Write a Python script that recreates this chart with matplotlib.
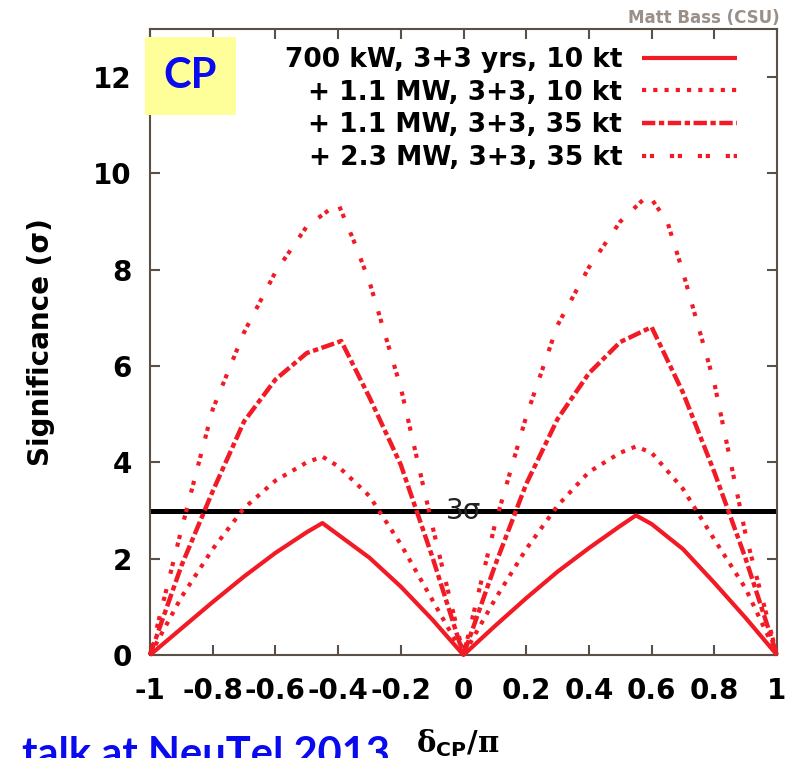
import matplotlib
matplotlib.use("Agg")
import matplotlib.pyplot as plt
from matplotlib.patches import Rectangle

plt.rcParams["font.family"] = ["DejaVu Sans"]
plt.rcParams["font.weight"] = "bold"
plt.rcParams["mathtext.fontset"] = "custom"
plt.rcParams["mathtext.rm"] = "DejaVu Serif"
plt.rcParams["mathtext.it"] = "DejaVu Serif"
plt.rcParams["mathtext.sf"] = "DejaVu Sans:bold"

RED = "#f21b25"
AXIS_GREY = "#5a5046"
BLUE = "#0a0af0"

# CP-violation sensitivity vs delta_CP / pi
x_700kw = [-1, -0.9, -0.8, -0.7, -0.6, -0.5, -0.45, -0.4, -0.3, -0.2, -0.1, 0,
           0.1, 0.2, 0.3, 0.4, 0.5, 0.55, 0.6, 0.7, 0.8, 0.9, 1]
sig_700kw = [0, 0.55, 1.1, 1.63, 2.12, 2.55, 2.74, 2.5, 2.02, 1.42, 0.74, 0,
             0.6, 1.18, 1.73, 2.22, 2.68, 2.9, 2.72, 2.2, 1.5, 0.77, 0]

x_11mw_10kt = [-1, -0.9, -0.8, -0.7, -0.6, -0.5, -0.45, -0.4, -0.3, -0.2, -0.1, 0,
               0.1, 0.2, 0.3, 0.4, 0.5, 0.55, 0.6, 0.7, 0.8, 0.9, 1]
sig_11mw_10kt = [0, 1.2, 2.2, 3.05, 3.62, 4.0, 4.12, 3.92, 3.3, 2.3, 1.15, 0,
                 1.15, 2.2, 3.1, 3.8, 4.2, 4.33, 4.2, 3.45, 2.4, 1.38, 0]

x_11mw_35kt = [-1, -0.9, -0.8, -0.7, -0.6, -0.5, -0.39, -0.3, -0.2, -0.1, 0,
               0.1, 0.2, 0.3, 0.4, 0.5, 0.6, 0.7, 0.8, 0.9, 1]
sig_11mw_35kt = [0, 1.85, 3.4, 4.85, 5.72, 6.27, 6.52, 5.35, 3.95, 2.05, 0,
                 1.85, 3.55, 4.9, 5.85, 6.5, 6.81, 5.45, 3.8, 2.0, 0]

x_23mw_35kt = [-1, -0.9, -0.8, -0.7, -0.6, -0.5, -0.4, -0.35, -0.3, -0.2, -0.1, 0,
               0.1, 0.2, 0.3, 0.4, 0.5, 0.59, 0.65, 0.7, 0.8, 0.9, 1]
sig_23mw_35kt = [0, 2.6, 5.1, 6.7, 7.95, 8.9, 9.38, 8.6, 7.75, 5.55, 2.7, 0,
                 2.7, 4.95, 6.85, 8.05, 9.0, 9.56, 9.0, 7.95, 5.65, 2.5, 0]

labels = [
    "700 kW, 3+3 yrs, 10 kt",
    "+ 1.1 MW, 3+3, 10 kt",
    "+ 1.1 MW, 3+3, 35 kt",
    "+ 2.3 MW, 3+3, 35 kt",
]
x_ticks = [-1, -0.8, -0.6, -0.4, -0.2, 0, 0.2, 0.4, 0.6, 0.8, 1]
x_tick_labels = ["-1", "-0.8", "-0.6", "-0.4", "-0.2", "0", "0.2", "0.4", "0.6", "0.8", "1"]
y_ticks = [0, 2, 4, 6, 8, 10, 12]
threshold = 3

W, H = 794, 758
fig = plt.figure(figsize=(W / 100, H / 100), dpi=100)
ax = fig.add_axes([150 / W, 1 - 655 / H, 627 / W, 626 / H])

ax.axhline(threshold, color="black", lw=3.6, zorder=2)
ax.text(0, threshold, "3\u03c3", ha="center", va="center", fontsize=20,
        fontweight="normal", color="#222222", zorder=4)

ax.plot(x_700kw, sig_700kw, color=RED, lw=3.0, solid_capstyle="butt",
        clip_on=False, label=labels[0], zorder=3)
ax.plot(x_11mw_10kt, sig_11mw_10kt, color=RED, lw=3.0, ls=(0, (1, 1.7)),
        clip_on=False, label=labels[1], zorder=3)
ax.plot(x_11mw_35kt, sig_11mw_35kt, color=RED, lw=3.2, ls=(0, (3, 0.8, 1.2, 0.8)),
        clip_on=False, label=labels[2], zorder=3)
ax.plot(x_23mw_35kt, sig_23mw_35kt, color=RED, lw=3.0, ls=(0, (1, 0.9, 1, 3.8)),
        clip_on=False, label=labels[3], zorder=3)

ax.set_xlim(-1, 1)
ax.set_ylim(0, 13)
ax.set_xticks(x_ticks)
ax.set_xticklabels(x_tick_labels)
ax.set_yticks(y_ticks)
ax.tick_params(axis="both", direction="in", length=7, width=1.5, color=AXIS_GREY,
               top=True, right=True, labelsize=20)
ax.tick_params(axis="x", pad=16)
ax.tick_params(axis="y", pad=13)
for sp in ax.spines.values():
    sp.set_color(AXIS_GREY)
    sp.set_linewidth(1.5)

ax.set_xlabel(r"$\mathrm{\delta}_{\mathsf{CP}}/\mathrm{\pi}$", fontsize=21)
ax.xaxis.set_label_coords(0.49, -0.116)
ax.set_ylabel("Significance (\u03c3)", fontsize=20, fontweight="bold")
ax.yaxis.set_label_coords(-0.152, 0.5)

ax.legend(loc="upper right", bbox_to_anchor=(737 / W, 1 - 47 / H),
          bbox_transform=fig.transFigure, frameon=False, markerfirst=False,
          fontsize=19, handlelength=3.6, handletextpad=0.75, labelspacing=0.25,
          borderpad=0, borderaxespad=0)

fig.text(780 / W, 1 - 23 / H, "Matt Bass (CSU)", ha="right", va="baseline",
         fontsize=12, color="#9a9088")

# yellow "CP" tag over the top-left corner
fig.patches.append(Rectangle((145 / W, 1 - 115 / H), 91 / W, 78 / H,
                             transform=fig.transFigure, facecolor="#ffff99",
                             edgecolor="none", zorder=5))
fig.text(190 / W, 1 - 76 / H, "CP", ha="center", va="center", fontsize=30,
         family="Lato", fontweight="bold", color=BLUE, zorder=6)

fig.text(22 / W, 1 - 767 / H, "talk at NeuTel 2013", ha="left", va="baseline",
         fontsize=30, family="Lato", fontweight="bold", color=BLUE)

fig.savefig("out.png", dpi=100)
